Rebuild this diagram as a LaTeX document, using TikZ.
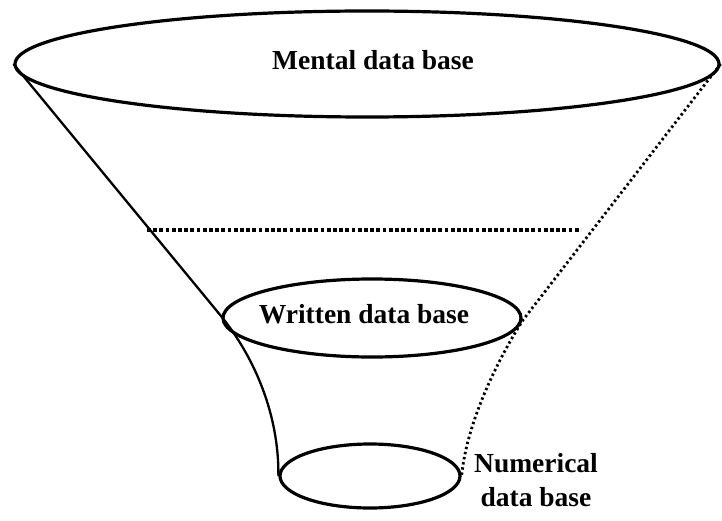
\documentclass[tikz,border=0pt]{standalone}
\usepackage{fontspec}
\setmainfont{Liberation Serif}
\usetikzlibrary{shapes.geometric}
\begin{document}
\begin{tikzpicture}[x=1pt,y=-1pt,
  rim/.style={draw, ellipse, line width=3.2pt, inner sep=0pt},
  side/.style={line width=2.3pt, line join=round},
  dotside/.style={line width=2.8pt, dash pattern=on 2.4pt off 2.8pt},
  level/.style={line width=3.2pt, dash pattern=on 3.8pt off 2.4pt},
  lab/.style={font=\fontsize{27.5}{34}\selectfont\bfseries, inner sep=0pt}]
\useasboundingbox (0,0) rectangle (722,521);
% the three levels of the funnel
\node[rim, minimum width=704pt, minimum height=106pt] (mental) at (367,64) {};
\node[rim, minimum width=298pt, minimum height=78pt] (written) at (372,318) {};
\node[rim, minimum width=180pt, minimum height=64pt] (numerical) at (370,476) {};
% labels
\node[lab, anchor=base] (tmental) at (373,70) {Mental data base};
\node[lab, anchor=base] (twritten) at (364,323) {Written data base};
\node[lab, align=center] (tnum) at (536,480.5) {Numerical\\data base};
% funnel walls
\coordinate (lw) at (221,316);
\coordinate (rw) at (523,320);
\draw[side] (mental.west) -- (lw)
  .. controls (255,358) and (279,415) .. (numerical.west);
\draw[dotside] (mental.east) -- (rw)
  .. controls (500,356) and (467,420) .. (numerical.east);
% dotted level inside the funnel
\coordinate (ll) at (147,230);
\coordinate (lr) at (581,230);
\draw[level] (ll) -- (lr);
\end{tikzpicture}
\end{document}
